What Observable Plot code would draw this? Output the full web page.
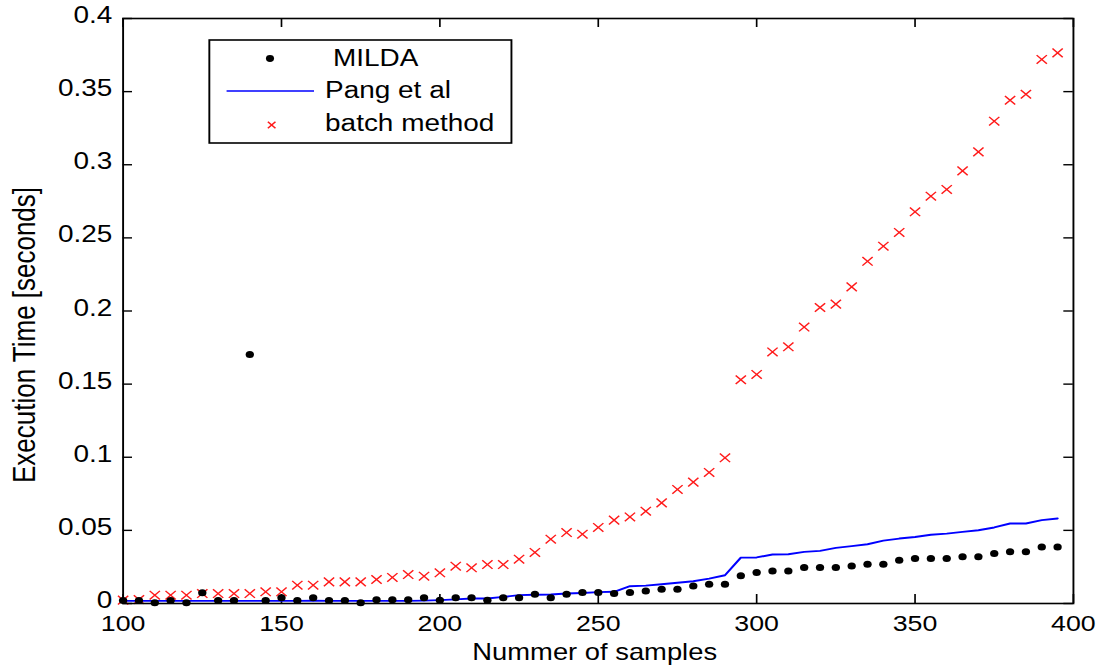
<!DOCTYPE html>
<html>
<head>
<meta charset="utf-8">
<script src="https://cdn.jsdelivr.net/npm/d3@7"></script>
<script src="https://cdn.jsdelivr.net/npm/@observablehq/plot@0.6"></script>
<style>
  html, body { margin: 0; padding: 0; background: white; overflow: hidden; }
  #wrap { width: 924px; transform: scaleX(1.1894); transform-origin: 0 0; }
</style>
</head>
<body>
<div id="wrap"></div>
<script>
// ---- data ----
const samples = [100,105,110,115,120,125,130,135,140,145,150,155,160,165,170,175,180,185,190,195,
                 200,205,210,215,220,225,230,235,240,245,250,255,260,265,270,275,280,285,290,295,
                 300,305,310,315,320,325,330,335,340,345,350,355,360,365,370,375,380,385,390,395];
const milda = [0.002,0.002,0.0005,0.002,0.0005,0.0073,0.002,0.002,0.1702,0.002,
               0.004,0.002,0.004,0.002,0.002,0.0005,0.0025,0.0025,0.0025,0.004,
               0.0023,0.004,0.004,0.0023,0.004,0.004,0.0064,0.004,0.0064,0.0075,
               0.0075,0.0068,0.0075,0.0086,0.0098,0.0098,0.012,0.0132,0.0132,0.019,
               0.0212,0.0223,0.0223,0.0246,0.0246,0.0246,0.0257,0.0269,0.0269,0.0296,
               0.0308,0.0308,0.0308,0.0319,0.0319,0.0342,0.0353,0.0353,0.0387,0.0387];
const pang = [0.0018,0.0018,0.0018,0.0018,0.0018,0.0018,0.0018,0.0018,0.0018,0.0018,
              0.0018,0.0018,0.002,0.0018,0.0018,0.0018,0.0018,0.0018,0.0018,0.002,
              0.0023,0.0028,0.0034,0.0034,0.0045,0.0057,0.006,0.0062,0.0068,0.0072,
              0.0078,0.008,0.0118,0.0122,0.0132,0.0142,0.0152,0.017,0.0193,0.0314,
              0.0315,0.0335,0.0337,0.0353,0.036,0.038,0.0392,0.0405,0.043,0.0444,
              0.0455,0.047,0.0478,0.049,0.0501,0.052,0.0547,0.0547,0.057,0.0581];
const batch = [0.0023,0.0027,0.0057,0.0057,0.0057,0.0068,0.0068,0.0068,0.0068,0.008,
               0.008,0.0125,0.0125,0.0148,0.0148,0.0148,0.0164,0.0178,0.0198,0.0187,
               0.021,0.0255,0.0244,0.0266,0.0266,0.0303,0.0349,0.044,0.0485,0.0474,
               0.052,0.057,0.0592,0.0631,0.0688,0.078,0.083,0.0896,0.0996,0.153,
               0.1566,0.172,0.1755,0.189,0.2024,0.2047,0.2165,0.234,0.2443,0.2537,
               0.2678,0.2785,0.2831,0.2958,0.3088,0.3298,0.3441,0.3482,0.372,0.3765];
const seriesNames = ["MILDA", "Pang et al", "batch method"];
const xTicks = [100,150,200,250,300,350,400];
const xTickLabels = ["100","150","200","250","300","350","400"];
const yTicks = [0,0.05,0.1,0.15,0.2,0.25,0.3,0.35,0.4];
const yTickLabels = ["0","0.05","0.1","0.15","0.2","0.25","0.3","0.35","0.4"];
const xLabel = "Nummer of samples";
const yLabel = "Execution Time [seconds]";

// ---- build tables ----
const mildaRows = samples.map((x, i) => ({x, y: milda[i]}));
const pangRows = samples.map((x, i) => ({x, y: pang[i]}));
const batchRows = samples.map((x, i) => ({x, y: batch[i]}));

const W = 924, H = 667;
const mL = 103, mR = 22, mT = 18, mB = 64;
const plotW = W - mL - mR, plotH = H - mT - mB;
const font = "'Liberation Sans', Arial, Helvetica, sans-serif";

const chart = Plot.plot({
  width: W, height: H,
  marginLeft: mL, marginRight: mR, marginTop: mT, marginBottom: mB,
  x: {domain: [100, 400]},
  y: {domain: [0, 0.4]},
  style: {fontFamily: font, fontSize: "22px", color: "black", background: "white"},
  marks: [
    Plot.axisX({ticks: xTicks, tickSize: 0, tickPadding: 12, fontSize: 22.5,
                tickFormat: d => xTickLabels[xTicks.indexOf(d)], label: null}),
    Plot.axisY({ticks: yTicks, tickSize: 0, tickPadding: 9, fontSize: 23.5, dy: -3,
                tickFormat: d => yTickLabels[yTicks.indexOf(d)], label: null}),
    Plot.tickX(xTicks, {x: d => d, insetTop: plotH - 9, stroke: "black", strokeWidth: 1.4}),
    Plot.tickX(xTicks, {x: d => d, insetBottom: plotH - 9, stroke: "black", strokeWidth: 1.4}),
    Plot.tickY(yTicks, {y: d => d, insetRight: plotW - 8, stroke: "black", strokeWidth: 1.4}),
    Plot.tickY(yTicks, {y: d => d, insetLeft: plotW - 8, stroke: "black", strokeWidth: 1.4}),
    Plot.dot(batchRows, {x: "x", y: "y", symbol: "times", r: 4, stroke: "#ff1a1a", strokeWidth: 1.3}),
    Plot.line(pangRows, {x: "x", y: "y", stroke: "#0000ff", strokeWidth: 1.9}),
    Plot.dot(mildaRows, {x: "x", y: "y", r: 3.5, fill: "black", stroke: "none"}),
    Plot.frame({stroke: "black", strokeWidth: 1.6}),
    Plot.text([xLabel], {text: d => d, frameAnchor: "bottom", dy: 40, dx: -3, lineAnchor: "top",
                         fontSize: 23, fill: "black"}),
    Plot.text([yLabel], {text: d => d, frameAnchor: "left", rotate: -90, dx: -82, dy: 24,
                         textAnchor: "middle", lineAnchor: "middle", fontSize: 26, fill: "black"})
  ]
});

// ---- legend (inside the plot, top left) ----
const svg = d3.select(chart);
const lg = svg.append("g").attr("font-family", font).attr("font-size", 23.5)
  .attr("fill", "black").attr("text-anchor", "start");
lg.append("rect").attr("x", 176).attr("y", 40).attr("width", 254).attr("height", 103)
  .attr("fill", "white").attr("stroke", "black").attr("stroke-width", 1.6);
lg.append("circle").attr("cx", 227).attr("cy", 58.5).attr("r", 3.4).attr("fill", "black");
lg.append("text").attr("x", 280).attr("y", 66.5).text(seriesNames[0]);
lg.append("line").attr("x1", 190.5).attr("x2", 264).attr("y1", 91).attr("y2", 91)
  .attr("stroke", "#0000ff").attr("stroke-width", 1.6);
lg.append("text").attr("x", 273.3).attr("y", 98.5).text(seriesNames[1]);
lg.append("path").attr("d", "M225.2,121.8L231.6,128.2M225.2,128.2L231.6,121.8")
  .attr("stroke", "#ff1a1a").attr("stroke-width", 1.3).attr("fill", "none");
lg.append("text").attr("x", 273.3).attr("y", 131.5).text(seriesNames[2]);

document.getElementById("wrap").appendChild(chart);
</script>
</body>
</html>
